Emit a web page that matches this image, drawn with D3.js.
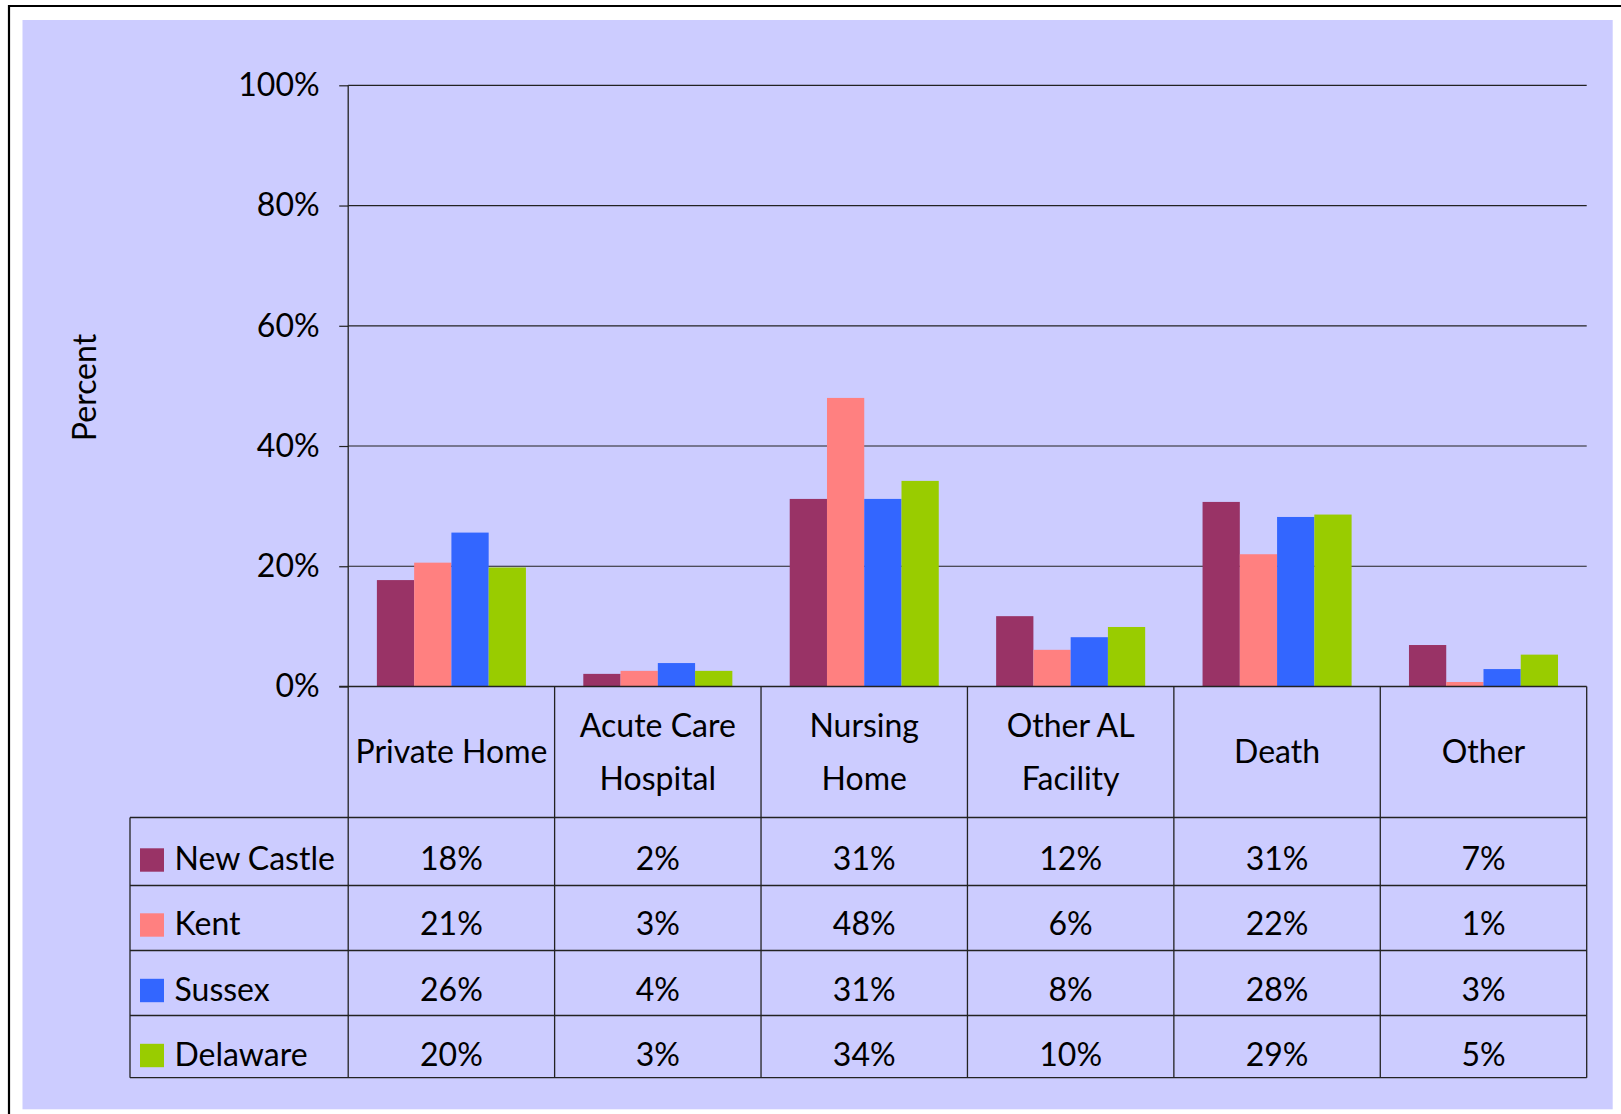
<!DOCTYPE html>
<html>
<head>
<meta charset="utf-8">
<script src="https://cdn.jsdelivr.net/npm/d3@7"></script>
<style>
  html, body { margin: 0; padding: 0; background: #ffffff; }
  svg { display: block; }
  text { font-family: "Gill Sans", "Gill Sans MT", Lato, sans-serif; fill: #000; }
</style>
</head>
<body>
<svg id="chart" width="1621" height="1114"></svg>
<script>
// ---- data ----
const categories = ["Private Home", "Acute Care Hospital", "Nursing Home", "Other AL Facility", "Death", "Other"];
const categoryLines = [["Private Home"], ["Acute Care", "Hospital"], ["Nursing", "Home"], ["Other AL", "Facility"], ["Death"], ["Other"]];
const seriesNames = ["New Castle", "Kent", "Sussex", "Delaware"];
const newCastle = [17.7, 2.1, 31.2, 11.7, 30.7, 6.9];
const kent      = [20.6, 2.6, 48.0, 6.1, 22.0, 0.75];
const sussex    = [25.6, 3.9, 31.2, 8.2, 28.2, 2.9];
const delaware  = [19.8, 2.6, 34.2, 9.9, 28.6, 5.3];
const seriesColors = ["#993366", "#FF8080", "#3366FF", "#99CC00"];
const yTicks = [0, 20, 40, 60, 80, 100];
const yTitle = "Percent";

const seriesValues = [newCastle, kent, sussex, delaware];

(function () {
// ---- layout ----
const svg = d3.select("#chart");
const FONT = 32;
const plotLeft = 348.2, plotRight = 1586.7, plotTop = 85.3, plotBase = 686.5;
const tableLeft = 130, tableBottom = 1077.7;
const rowEdges = [817.5, 885.5, 950.5, 1015.5, 1077.7];
const rowBaselines = [870, 935, 1000.5, 1065.5];

// white page with black top/left frame
svg.append("rect").attr("x", 0).attr("y", 0).attr("width", 1621).attr("height", 1114).attr("fill", "#fff");
svg.append("rect").attr("x", 22.5).attr("y", 20).attr("width", 1590.2).attr("height", 1089.3).attr("fill", "#CCCCFF");
svg.append("line").attr("x1", 8).attr("x2", 1621).attr("y1", 6).attr("y2", 6).attr("stroke", "#000").attr("stroke-width", 2.2);
svg.append("line").attr("x1", 9).attr("x2", 9).attr("y1", 5).attr("y2", 1114).attr("stroke", "#000").attr("stroke-width", 2.2);

const x = d3.scaleBand().domain(categories).range([plotLeft, plotRight]).paddingInner(0).paddingOuter(0);
const xs = d3.scaleBand().domain(seriesNames).range([0, x.bandwidth()]).paddingInner(0).paddingOuter(0.77);
const y = d3.scaleLinear().domain([0, 100]).range([plotBase, plotTop]);

const lineColor = "#222";

// gridlines
svg.append("g").selectAll("line").data(yTicks.filter(d => d > 0)).join("line")
  .attr("x1", plotLeft).attr("x2", plotRight)
  .attr("y1", d => y(d)).attr("y2", d => y(d))
  .attr("stroke", lineColor).attr("stroke-width", 1.2);

// bars
const groups = svg.append("g").selectAll("g").data(seriesNames).join("g")
  .attr("fill", (d, i) => seriesColors[i]);
groups.selectAll("rect").data((s, si) => categories.map((c, ci) => ({ c, s, v: seriesValues[si][ci] })))
  .join("rect")
  .attr("x", d => x(d.c) + xs(d.s))
  .attr("width", xs.bandwidth())
  .attr("y", d => y(d.v))
  .attr("height", d => y(0) - y(d.v));

// y axis
const yAxis = d3.axisLeft(y).tickValues(yTicks).tickSize(9).tickSizeOuter(0).tickPadding(19.6)
  .tickFormat(d => d + "%");
const gy = svg.append("g").attr("transform", `translate(${plotLeft},0)`).call(yAxis);
gy.select(".domain").remove();
gy.selectAll(".tick line").attr("stroke", lineColor).attr("stroke-width", 1.2);
gy.selectAll(".tick text").attr("font-size", FONT).attr("font-family", null).attr("fill", "#000").attr("dy", "0.32em");

// y title
svg.append("text").attr("transform", "translate(96,387.5) rotate(-90)")
  .attr("text-anchor", "middle").attr("font-size", FONT).text(yTitle);

// ---- data table ----
const tg = svg.append("g").attr("stroke", lineColor).attr("stroke-width", 1.3).attr("fill", "none");
tg.append("line").attr("x1", plotLeft - 9).attr("x2", plotRight).attr("y1", plotBase).attr("y2", plotBase);
tg.append("line").attr("x1", plotLeft).attr("x2", plotLeft).attr("y1", plotTop).attr("y2", tableBottom);
categories.forEach(c => {
  const xr = x(c) + x.bandwidth();
  tg.append("line").attr("x1", xr).attr("x2", xr).attr("y1", plotBase).attr("y2", tableBottom);
});
rowEdges.forEach(r => {
  tg.append("line").attr("x1", tableLeft).attr("x2", plotRight).attr("y1", r).attr("y2", r);
});
tg.append("line").attr("x1", tableLeft).attr("x2", tableLeft).attr("y1", rowEdges[0]).attr("y2", tableBottom);

// header labels
const headerMid = (plotBase + rowEdges[0]) / 2;
categories.forEach((c, i) => {
  const lines = categoryLines[i];
  const cx = x(c) + x.bandwidth() / 2;
  const lh = 53;
  lines.forEach((ln, j) => {
    const by = headerMid + 11 + (j - (lines.length - 1) / 2) * lh;
    svg.append("text").attr("x", cx).attr("y", by).attr("text-anchor", "middle")
      .attr("font-size", FONT).text(ln);
  });
});

// data rows
seriesNames.forEach((s, si) => {
  const bl = rowBaselines[si];
  svg.append("rect").attr("x", 140).attr("y", bl - 21.7).attr("width", 24).attr("height", 23.4)
    .attr("fill", seriesColors[si]);
  svg.append("text").attr("x", 174.5).attr("y", bl).attr("font-size", FONT).text(s);
  categories.forEach((c, ci) => {
    svg.append("text").attr("x", x(c) + x.bandwidth() / 2).attr("y", bl)
      .attr("text-anchor", "middle").attr("font-size", FONT)
      .text(Math.round(seriesValues[si][ci]) + "%");
  });
});
})();
</script>
</body>
</html>
